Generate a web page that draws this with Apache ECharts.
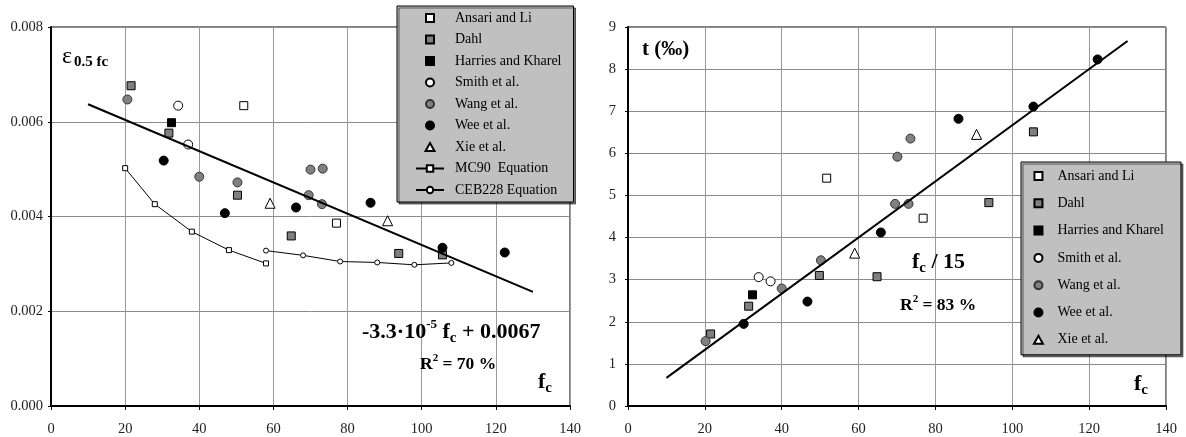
<!DOCTYPE html>
<html><head><meta charset="utf-8">
<script src="https://cdn.jsdelivr.net/npm/echarts@6/dist/echarts.min.js"></script>
<style>html,body{margin:0;padding:0;background:#fff}#c{width:1186px;height:437px}</style>
</head><body><div id="c"></div><script>
// ---------- data ----------
const xTicks = [0, 20, 40, 60, 80, 100, 120, 140];
const epsTicks = [0, 0.002, 0.004, 0.006, 0.008];
const tTicks = [0, 1, 2, 3, 4, 5, 6, 7, 8, 9];
// left chart: strain at 0.5 fc vs fc
const epsAnsari = [[52.0, 0.00634], [77.0, 0.00386]];
const epsDahl = [[21.6, 0.00676], [31.8, 0.00576], [50.3, 0.00445], [64.8, 0.00359], [93.8, 0.00322], [105.6, 0.00319]];
const epsHarries = [[32.5, 0.00598]];
const epsSmith = [[34.3, 0.00634], [37.0, 0.00552]];
const epsWang = [[20.6, 0.00647], [40.0, 0.00484], [50.3, 0.00472], [70.0, 0.00499], [73.3, 0.00501], [69.5, 0.00445], [73.1, 0.00426]];
const epsWee = [[30.4, 0.00518], [46.9, 0.00407], [66.1, 0.00419], [86.2, 0.00429], [105.6, 0.00334], [122.4, 0.00324]];
const epsXie = [[59.1, 0.00428], [90.8, 0.00391]];
const mc90 = [[20, 0.00502], [28, 0.00426], [38, 0.00368], [48, 0.00329], [58, 0.00301]];
const ceb228 = [[58, 0.00328], [68, 0.00318], [78, 0.00305], [88, 0.00303], [98, 0.00298], [108, 0.00302]];
const epsTrend = [[10, 0.00637], [130, 0.00241]];
// right chart: t (per mille) vs fc
const tAnsari = [[51.7, 5.41], [76.8, 4.46]];
const tDahl = [[21.5, 1.71], [31.4, 2.37], [49.8, 3.10], [64.8, 3.07], [93.9, 4.83], [105.5, 6.51]];
const tHarries = [[32.4, 2.64]];
const tSmith = [[34.0, 3.06], [37.1, 2.96]];
const tWang = [[20.2, 1.54], [40.0, 2.79], [50.2, 3.46], [69.5, 4.80], [73.0, 4.80], [70.1, 5.92], [73.5, 6.35]];
const tWee = [[30.1, 1.95], [46.7, 2.48], [65.8, 4.12], [86.0, 6.82], [105.5, 7.11], [122.2, 8.23]];
const tXie = [[59.0, 3.63], [90.7, 6.45]];
const tTrend = [[10, 0.667], [130, 8.667]];

const namesLeft = ['Ansari and Li', 'Dahl', 'Harries and Kharel', 'Smith et al.', 'Wang et al.', 'Wee et al.', 'Xie et al.', 'MC90  Equation', 'CEB228 Equation'];
const namesRight = ['Ansari and Li', 'Dahl', 'Harries and Kharel', 'Smith et al.', 'Wang et al.', 'Wee et al.', 'Xie et al.'];

// ---------- styles ----------
const F = 'Liberation Serif, Times New Roman, serif';
const SQ = 'path://M0,0L10,0L10,10L0,10Z';
const TRI = 'path://M5,0L10,9L0,9Z';
const sty = {
  'Ansari and Li': { symbol: 'rect', icon: SQ, size: 8, color: '#ffffff', border: '#000' },
  'Dahl': { symbol: 'rect', icon: SQ, size: 8, color: '#808080', border: '#000' },
  'Harries and Kharel': { symbol: 'rect', icon: SQ, size: 8, color: '#000000', border: '#000' },
  'Smith et al.': { symbol: 'circle', size: 9, color: '#ffffff', border: '#000' },
  'Wang et al.': { symbol: 'circle', size: 9, color: '#808080', border: '#333' },
  'Wee et al.': { symbol: 'circle', size: 9, color: '#000000', border: '#000' },
  'Xie et al.': { symbol: 'triangle', icon: TRI, size: 10, color: '#ffffff', border: '#000' }
};
function legendData(names) {
  return names.map(n => (sty[n] && sty[n].icon) ? { name: n, icon: sty[n].icon } : { name: n });
}
function sc(name, data, gi) {
  const s = sty[name];
  return { type: 'scatter', name, data, xAxisIndex: gi, yAxisIndex: gi, symbol: s.symbol, symbolSize: s.size,
    itemStyle: { color: s.color, borderColor: s.border, borderWidth: 1, opacity: 1 }, z: 3, silent: true };
}
function eqLine(name, data, symbol) {
  return { type: 'line', name, data, xAxisIndex: 0, yAxisIndex: 0, symbol, symbolSize: 5, showAllSymbol: true,
    itemStyle: { color: '#ffffff', borderColor: '#000', borderWidth: 1 },
    lineStyle: { color: '#000', width: 1 }, z: 3, silent: true, animation: false };
}
function trend(data, gi) {
  return { type: 'line', data, xAxisIndex: gi, yAxisIndex: gi, symbol: 'none',
    lineStyle: { color: '#000', width: 2 }, z: 4, silent: true };
}
function xAx(gi) {
  return { type: 'value', gridIndex: gi, min: xTicks[0], max: xTicks[xTicks.length - 1], interval: xTicks[1] - xTicks[0],
    axisLine: { show: true, onZero: false, lineStyle: { color: '#000', width: 2 } },
    axisTick: { show: true, length: 4, lineStyle: { color: '#000' } },
    axisLabel: { color: '#222', fontFamily: F, fontSize: 14.5, margin: 16 },
    splitLine: { show: true, lineStyle: { color: '#9a9a9a', width: 1 } } };
}
function yAx(gi, ticks, fmt, margin) {
  return { type: 'value', gridIndex: gi, min: ticks[0], max: ticks[ticks.length - 1], interval: ticks[1] - ticks[0],
    axisLine: { show: true, onZero: false, lineStyle: { color: '#000', width: 2 } },
    axisTick: { show: true, length: 3, lineStyle: { color: '#000' } },
    axisLabel: { color: '#222', fontFamily: F, fontSize: 14.5, margin, formatter: fmt },
    splitLine: { show: true, lineStyle: { color: '#8a8a8a', width: 1 } } };
}
const legendBase = { orient: 'vertical', selectedMode: false, backgroundColor: '#c0c0c0', borderColor: '#000', borderWidth: 1,
  shadowColor: 'rgba(0,0,0,0.55)', shadowOffsetX: 2, shadowOffsetY: 2, shadowBlur: 0, itemHeight: 8, symbolKeepAspect: true,
  textStyle: { fontFamily: F, fontSize: 14, color: '#000', lineHeight: 14 } };

const rich = (b) => ({
  m: { fontFamily: F, fontSize: b, fontWeight: 'bold', color: '#000', lineHeight: b + 6, verticalAlign: 'middle' },
  sup: { fontFamily: F, fontSize: Math.round(b * 0.6), fontWeight: 'bold', color: '#000', lineHeight: Math.round(b * 0.6), verticalAlign: 'top' },
  sub: { fontFamily: F, fontSize: Math.round(b * 0.7), fontWeight: 'bold', color: '#000', lineHeight: Math.round(b * 0.7), verticalAlign: 'bottom' },
  e: { fontFamily: F, fontSize: 24, color: '#000', lineHeight: 22, verticalAlign: 'middle' },
  s: { fontFamily: F, fontSize: 15, fontWeight: 'bold', color: '#000', lineHeight: 15, verticalAlign: 'bottom', padding: [0, 0, -2, 2] }
});
function txt(x, y, text, b) {
  return { type: 'text', x, y, z: 10, silent: true, style: { text, rich: rich(b), verticalAlign: 'middle', align: 'left' } };
}

const option = {
  animation: false,
  backgroundColor: '#ffffff',
  grid: [
    { left: 51, top: 27, width: 519, height: 379, show: true, borderColor: '#000', borderWidth: 1, backgroundColor: 'transparent' },
    { left: 628, top: 27, width: 538, height: 379, show: true, borderColor: '#000', borderWidth: 1, backgroundColor: 'transparent' }
  ],
  xAxis: [xAx(0), xAx(1)],
  yAxis: [yAx(0, epsTicks, v => v.toFixed(3), 8), yAx(1, tTicks, v => String(v), 12)],
  legend: [
    Object.assign({}, legendBase, { left: 397, top: 6, padding: [5, 12, 5, 18], itemWidth: 28, itemGap: 7.5, data: legendData(namesLeft),
      textStyle: Object.assign({}, legendBase.textStyle, { padding: [0, 0, 0, 6] }) }),
    Object.assign({}, legendBase, { left: 1021, top: 162, padding: [7, 17, 8, 12], itemWidth: 20, itemGap: 13.3, data: legendData(namesRight),
      textStyle: Object.assign({}, legendBase.textStyle, { padding: [0, 0, 0, 4] }) })
  ],
  series: [
    sc('Ansari and Li', epsAnsari, 0), sc('Dahl', epsDahl, 0), sc('Harries and Kharel', epsHarries, 0),
    sc('Smith et al.', epsSmith, 0), sc('Wang et al.', epsWang, 0), sc('Wee et al.', epsWee, 0), sc('Xie et al.', epsXie, 0),
    eqLine('MC90  Equation', mc90, 'rect'), eqLine('CEB228 Equation', ceb228, 'circle'),
    trend(epsTrend, 0),
    sc('Ansari and Li', tAnsari, 1), sc('Dahl', tDahl, 1), sc('Harries and Kharel', tHarries, 1),
    sc('Smith et al.', tSmith, 1), sc('Wang et al.', tWang, 1), sc('Wee et al.', tWee, 1), sc('Xie et al.', tXie, 1),
    trend(tTrend, 1)
  ],
  graphic: [
    txt(62, 57, '{e|ε}{s|0.5 fc}', 20),
    txt(362, 332, '{m|-3.3·10}{sup|-5}{m| f}{sub|c}{m| + 0.0067}', 22),
    txt(420, 364, '{m|R}{sup|2}{m| = 70 %}', 17.5),
    txt(538, 382, '{m|f}{sub|c}', 22),
    txt(642, 50, '{m|t (‰)}', 21),
    txt(912, 262, '{m|f}{sub|c}{m| / 15}', 22),
    txt(900, 305, '{m|R}{sup|2}{m| = 83 %}', 17.5),
    txt(1134, 384, '{m|f}{sub|c}', 22)
  ]
};
const chart = echarts.init(document.getElementById('c'), null, { renderer: 'canvas' });
chart.setOption(option);
</script></body></html>
